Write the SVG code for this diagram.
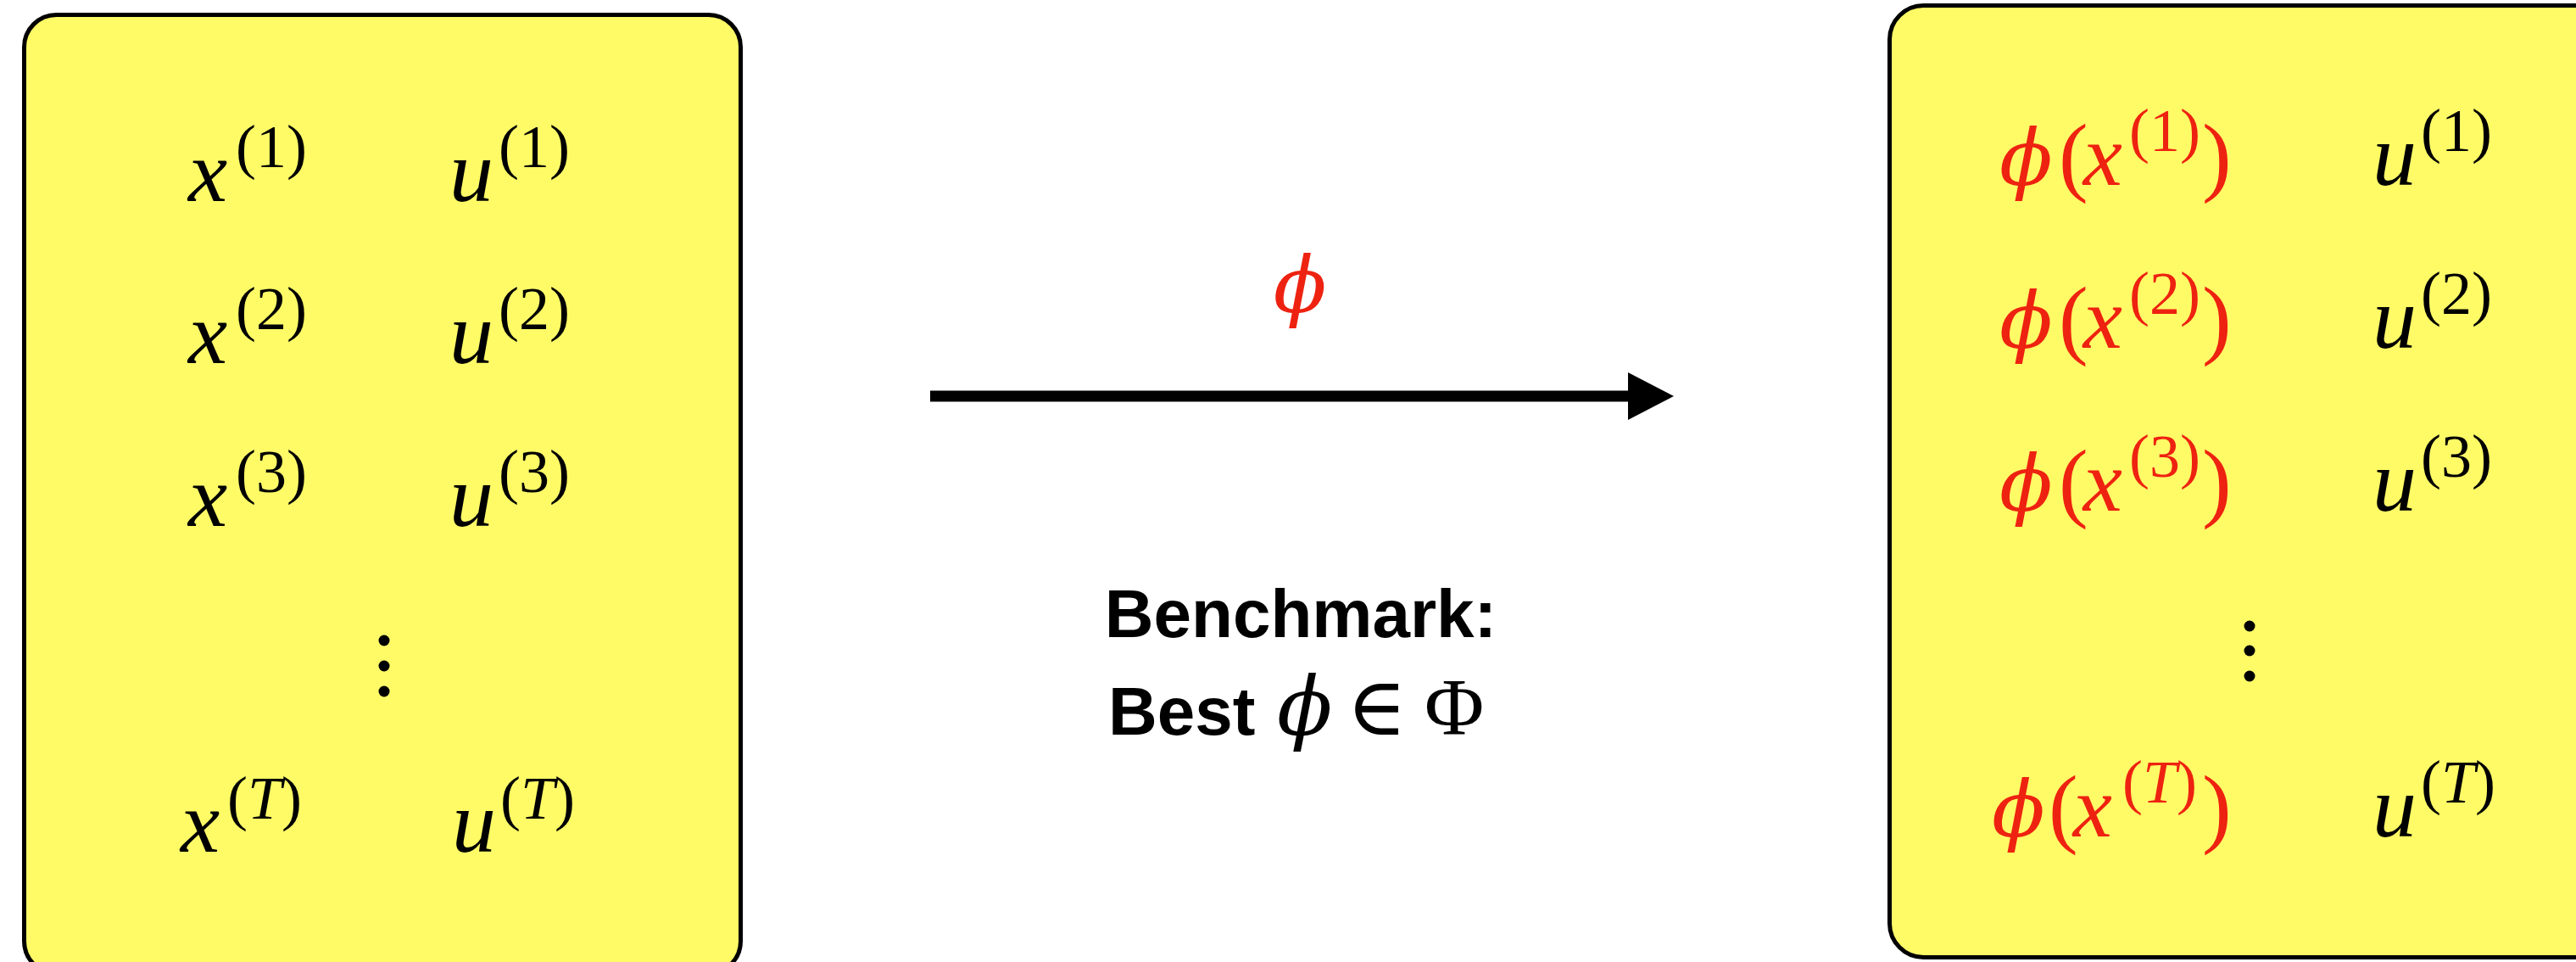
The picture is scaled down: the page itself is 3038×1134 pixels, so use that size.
<svg xmlns="http://www.w3.org/2000/svg" width="3038" height="1134" viewBox="0 0 3038 1134">
<style>
.box{fill:#FFFB67;stroke:#000;stroke-width:5}
.m{font-family:"Liberation Serif","Times New Roman","DejaVu Serif",serif;font-size:104px;fill:#000}
.i{font-style:italic}
.s{font-size:72px}
.dot{fill:#000}
.b{font-family:"Liberation Sans",Arial,sans-serif;font-weight:bold;font-size:80px;fill:#000}
.g{font-family:"Liberation Serif","Times New Roman","DejaVu Serif",serif;font-size:96px;fill:#000}
.phi{font-family:"DejaVu Serif","Liberation Serif",serif;font-style:italic;font-size:92px;fill:#000}
.red{fill:#EE2210}
</style>
<defs>
<marker id="ah" markerUnits="userSpaceOnUse" markerWidth="56" markerHeight="56" refX="0" refY="28" orient="auto">
<path d="M0,0 L54,28 L0,56 z" fill="#000"/>
</marker>
</defs>
<g id="left-box">
<rect class="box" x="28.5" y="17.5" width="845" height="1130" rx="38"/>
<text class="m i" x="222" y="237">x</text><text class="m s" x="278" y="197">(1)</text>
<text class="m i" x="530" y="237">u</text><text class="m s" x="588" y="197">(1)</text>
<text class="m i" x="222" y="428">x</text><text class="m s" x="278" y="388">(2)</text>
<text class="m i" x="530" y="428">u</text><text class="m s" x="588" y="388">(2)</text>
<text class="m i" x="222" y="620">x</text><text class="m s" x="278" y="580">(3)</text>
<text class="m i" x="530" y="620">u</text><text class="m s" x="588" y="580">(3)</text>
<circle class="dot" cx="453" cy="755" r="6.5"/>
<circle class="dot" cx="453" cy="785" r="6.5"/>
<circle class="dot" cx="453" cy="815" r="6.5"/>
<text class="m i" x="213" y="1004">x</text><text class="m s" x="268" y="965">(<tspan class="i">T</tspan>)</text>
<text class="m i" x="533" y="1004">u</text><text class="m s" x="590" y="965">(<tspan class="i">T</tspan>)</text>
</g>
<g id="right-box">
<rect class="box" x="2228.5" y="6.5" width="900" height="1122" rx="40"/>
<text class="phi red" x="2358" y="218">ϕ</text><text class="m red" x="2428" y="218">(<tspan class="i" dx="-6">x</tspan></text><text class="m s red" x="2511" y="178">(1)</text><text class="m red" x="2597" y="218">)</text>
<text class="phi red" x="2358" y="410">ϕ</text><text class="m red" x="2428" y="410">(<tspan class="i" dx="-6">x</tspan></text><text class="m s red" x="2511" y="370">(2)</text><text class="m red" x="2597" y="410">)</text>
<text class="phi red" x="2358" y="602">ϕ</text><text class="m red" x="2428" y="602">(<tspan class="i" dx="-6">x</tspan></text><text class="m s red" x="2511" y="562">(3)</text><text class="m red" x="2597" y="602">)</text>
<text class="phi red" x="2349" y="986">ϕ</text><text class="m red" x="2416" y="986">(<tspan class="i" dx="-6">x</tspan></text><text class="m s red" x="2503" y="946">(<tspan class="i">T</tspan>)</text><text class="m red" x="2597" y="986">)</text>
<text class="m i" x="2798" y="218">u</text><text class="m s" x="2855" y="178">(1)</text>
<text class="m i" x="2798" y="410">u</text><text class="m s" x="2855" y="370">(2)</text>
<text class="m i" x="2798" y="602">u</text><text class="m s" x="2855" y="562">(3)</text>
<circle class="dot" cx="2653" cy="738" r="6.5"/>
<circle class="dot" cx="2653" cy="767" r="6.5"/>
<circle class="dot" cx="2653" cy="797" r="6.5"/>
<text class="m i" x="2798" y="986">u</text><text class="m s" x="2855" y="946">(<tspan class="i">T</tspan>)</text>
</g>
<g id="connectors">
<line x1="1097" y1="467" x2="1920" y2="467" stroke="#000" stroke-width="13" marker-end="url(#ah)"/>
<text class="phi red" x="1533" y="368" text-anchor="middle">ϕ</text>
</g>
<g id="benchmark-label">
<text class="b" x="1534" y="751" text-anchor="middle">Benchmark:</text>
<text class="b" x="1307" y="866">Best</text>
<text class="phi" x="1506" y="866" style="font-size:96px">ϕ</text>
<text class="g" x="1588" y="866">∈</text>
<text class="g" x="1680" y="866">Φ</text>
</g>
</svg>
